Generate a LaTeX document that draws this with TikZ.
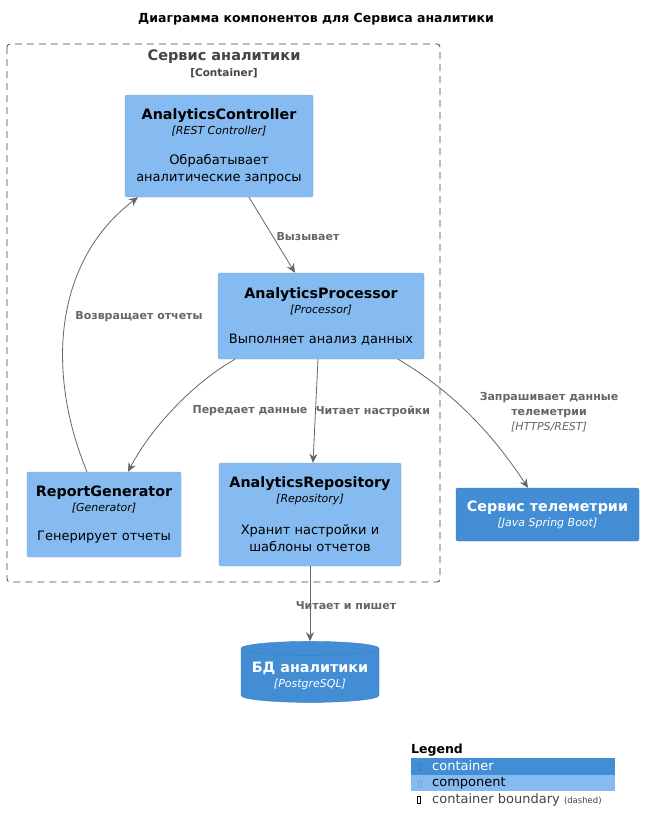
\documentclass[tikz,border=0pt]{standalone}
\usepackage{fontspec}
\setmainfont{DejaVu Sans}
\usetikzlibrary{arrows.meta,shapes.geometric}
\definecolor{compblue}{HTML}{85BBF0}
\definecolor{compline}{HTML}{78A8D8}
\definecolor{contblue}{HTML}{438DD5}
\definecolor{contline}{HTML}{3C7FC0}
\definecolor{relgray}{HTML}{666666}
\definecolor{bndgray}{HTML}{444444}
\newcommand{\ttl}{\fontsize{14.3}{16}\selectfont\bfseries}
\newcommand{\stp}{\fontsize{11}{16}\selectfont\mdseries\itshape}
\newcommand{\dsc}{\fontsize{13}{18}\selectfont\mdseries\upshape}

\begin{document}
\begin{tikzpicture}[x=1pt,y=-1pt,
  comp/.style = {draw=compline, fill=compblue, rounded corners=2pt, align=center, inner sep=0pt},
  cont/.style = {draw=contline, fill=contblue, rounded corners=2pt, align=center, inner sep=0pt, text=white},
  rel/.style = {draw=relgray, line width=0.8pt, -{Stealth[length=9pt,width=8pt,inset=3pt]}},
  lbl/.style = {text=relgray, font=\fontsize{11}{14}\selectfont\bfseries, align=center, inner sep=0pt}]
\useasboundingbox (0,0) rectangle (645,833);
\fill[white] (0,0) rectangle (645,833);

\node[font=\fontsize{12.5}{15}\selectfont\bfseries] (title) at (316,19) {Диаграмма компонентов для Сервиса аналитики};

% container boundary
\draw[bndgray, line width=0.8pt, dash pattern=on 7pt off 5pt, rounded corners=3pt] (7,44) rectangle (440,582);
\node[text=bndgray, font=\fontsize{14.5}{16}\selectfont\bfseries] (bnd) at (224,57) {Сервис аналитики};
\node[text=bndgray, font=\fontsize{10.5}{12}\selectfont\bfseries] (bndtype) at (224,73) {[Container]};

% components
\node[comp, minimum width=188, minimum height=102] (ctrl) at (219,146)
  {\ttl AnalyticsController\\[3pt] \stp [REST Controller]\\[18pt] \dsc Обрабатывает\\[5pt] \dsc аналитические запросы};
\node[comp, minimum width=206, minimum height=86] (proc) at (321,316)
  {\ttl AnalyticsProcessor\\[3pt] \stp [Processor]\\[18pt] \dsc Выполняет анализ данных};
\node[comp, minimum width=154, minimum height=85] (gen) at (104,514.5)
  {\ttl ReportGenerator\\[3pt] \stp [Generator]\\[17pt] \dsc Генерирует отчеты};
\node[comp, minimum width=182, minimum height=103] (repo) at (310,514.5)
  {\ttl AnalyticsRepository\\[3pt] \stp [Repository]\\[18pt] \dsc Хранит настройки и\\[4pt] \dsc шаблоны отчетов};

% external
\node[cont, minimum width=183, minimum height=53] (tel) at (547.5,514.5)
  {\ttl Сервис телеметрии\\[3pt] \stp [Java Spring Boot]};
\node[cylinder, shape border rotate=90, aspect=0.12, draw=contline, fill=contblue, text=white,
  minimum width=138, minimum height=61, inner sep=0pt, align=center] (db) at (310,675.5)
  {\ttl БД аналитики\\[3pt] \stp [PostgreSQL]};

% relations
\draw[rel] ([xshift=30pt]ctrl.south) -- ([xshift=-26pt]proc.north);
\node[lbl] (l1) at (308,237) {Вызывает};
\draw[rel] ([xshift=-17pt]gen.north) .. controls (45,370) and (55,260) .. ([xshift=-81pt]ctrl.south);
\node[lbl] (l2) at (139,317) {Возвращает отчеты};
\draw[rel] ([xshift=-86pt]proc.south) .. controls (190,385) and (150,430) .. ([xshift=24pt]gen.north);
\node[lbl] (l3) at (250,411) {Передает данные};
\draw[rel] ([xshift=-3pt]proc.south) -- ([xshift=3pt]repo.north);
\node[lbl] (l4) at (373,411) {Читает настройки};
\draw[rel] ([xshift=77pt]proc.south) .. controls (450,390) and (490,430) .. ([xshift=-19.5pt]tel.north);
\node[lbl] (l5) at (549,412) {Запрашивает данные\\[1pt] телеметрии\\[1pt] \mdseries\itshape [HTTPS/REST]};
\draw[rel] (repo.south) -- (db.top);
\node[lbl] (l6) at (346,606) {Читает и пишет};

% legend
\node[anchor=west, font=\fontsize{12.5}{15}\selectfont\bfseries, inner sep=0pt] (leg) at (411,750) {Legend};
\fill[contblue] (411,758) rectangle (615,774.5);
\fill[compblue] (411,774.5) rectangle (615,791);
\draw[contline, line width=0.5pt] (418,763) rectangle (421,770);
\draw[compline, line width=0.5pt] (418,780) rectangle (421,787);
\draw[black, line width=0.5pt] (417,796) rectangle (420,803);
\node[anchor=west, text=white, font=\fontsize{13}{15}\selectfont, inner sep=0pt] (lcont) at (432,766) {container};
\node[anchor=west, font=\fontsize{13}{15}\selectfont, inner sep=0pt] (lcomp) at (432,783) {component};
\node[anchor=west, text=bndgray, font=\fontsize{13}{15}\selectfont, inner sep=0pt] (lbnd) at (432,800) {container boundary \fontsize{8.5}{10}\selectfont(dashed)};
\end{tikzpicture}
\end{document}
